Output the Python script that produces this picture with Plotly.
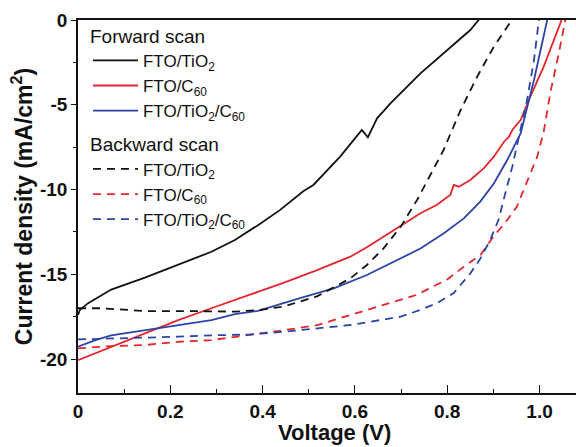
import plotly.graph_objects as go

# ---- data ----
fwd_tio2_v = [0, 0.004, 0.022, 0.072, 0.145, 0.217, 0.289, 0.34, 0.39, 0.438, 0.488, 0.51, 0.568, 0.615, 0.628, 0.648, 0.677, 0.742, 0.8, 0.85, 0.877]
fwd_tio2_j = [-17.4, -17.1, -16.7, -15.9, -15.2, -14.45, -13.67, -12.98, -12.1, -11.2, -10.1, -9.73, -8.06, -6.49, -6.92, -5.8, -4.92, -3.15, -1.77, -0.59, 0.3]

fwd_c60_v = [0, 0.072, 0.145, 0.217, 0.289, 0.362, 0.445, 0.518, 0.59, 0.626, 0.662, 0.699, 0.742, 0.778, 0.807, 0.814, 0.825, 0.85, 0.879, 0.901, 0.923, 0.934, 0.941, 0.959, 0.98, 1.009, 1.031, 1.052]
fwd_c60_j = [-20.06, -19.27, -18.5, -17.7, -17.0, -16.3, -15.5, -14.75, -13.96, -13.4, -12.78, -12.1, -11.4, -10.9, -10.3, -9.73, -9.83, -9.44, -8.75, -8.06, -7.18, -6.88, -6.49, -5.9, -4.52, -2.75, -1.18, 0.3]

fwd_tc_v = [0, 0.036, 0.072, 0.145, 0.217, 0.289, 0.34, 0.39, 0.481, 0.554, 0.626, 0.699, 0.742, 0.792, 0.836, 0.872, 0.901, 0.93, 0.959, 0.988, 1.002, 1.019]
fwd_tc_j = [-19.27, -18.9, -18.6, -18.3, -18.0, -17.7, -17.35, -17.15, -16.4, -15.83, -15.04, -14.06, -13.48, -12.59, -11.7, -10.7, -9.64, -8.26, -6.69, -3.54, -1.77, 0.3]

bwd_tio2_v = [0, 0.05, 0.108, 0.145, 0.253, 0.34, 0.395, 0.445, 0.518, 0.59, 0.626, 0.662, 0.699, 0.735, 0.792, 0.829, 0.865, 0.901, 0.95]
bwd_tio2_j = [-17.0, -17.0, -17.1, -17.17, -17.17, -17.2, -17.1, -16.9, -16.3, -15.24, -14.45, -13.47, -12.2, -10.6, -7.67, -5.31, -3.34, -1.57, 0.4]

bwd_c60_v = [0, 0.072, 0.145, 0.217, 0.289, 0.333, 0.39, 0.445, 0.518, 0.59, 0.662, 0.735, 0.756, 0.8, 0.836, 0.872, 0.9, 0.93, 0.951, 0.966, 0.98, 0.995, 1.009, 1.024, 1.04, 1.058]
bwd_c60_j = [-19.37, -19.23, -19.17, -18.98, -18.88, -18.72, -18.49, -18.3, -18.0, -17.4, -16.8, -16.2, -15.9, -15.3, -14.55, -13.86, -12.78, -11.8, -11.0, -10.0, -9.05, -8.06, -6.6, -4.2, -2.2, 0.3]

bwd_tc_v = [0, 0.108, 0.217, 0.289, 0.373, 0.445, 0.518, 0.59, 0.699, 0.742, 0.778, 0.814, 0.85, 0.872, 0.893, 0.911, 0.926, 0.941, 0.952, 0.973, 0.988, 1.0]
bwd_tc_j = [-18.84, -18.78, -18.68, -18.6, -18.55, -18.39, -18.19, -17.99, -17.5, -17.1, -16.7, -16.1, -14.95, -14.06, -12.98, -11.8, -10.2, -8.65, -7.28, -4.72, -2.36, 0.3]

x_tickvals = [0, 0.2, 0.4, 0.6, 0.8, 1.0]
x_ticktext = ["0", "0.2", "0.4", "0.6", "0.8", "1.0"]
y_tickvals = [0, -5, -10, -15, -20]
y_ticktext = ["0", "-5", "-10", "-15", "-20"]
x_title = "Voltage (V)"
y_title = "Current density (mA/cm<sup>2</sup>)"

BLACK = "#111111"
RED = "#e3262c"
BLUE = "#2c44a6"
FONT = "Arial, Liberation Sans, sans-serif"

series = [
    (fwd_tio2_v, fwd_tio2_j, "FTO/TiO<sub>2</sub>", BLACK, "solid", "legend"),
    (fwd_c60_v, fwd_c60_j, "FTO/C<sub>60</sub>", RED, "solid", "legend"),
    (fwd_tc_v, fwd_tc_j, "FTO/TiO<sub>2</sub>/C<sub>60</sub>", BLUE, "solid", "legend"),
    (bwd_tio2_v, bwd_tio2_j, "FTO/TiO<sub>2</sub>", BLACK, "8px,6px", "legend2"),
    (bwd_c60_v, bwd_c60_j, "FTO/C<sub>60</sub>", RED, "8px,6px", "legend2"),
    (bwd_tc_v, bwd_tc_j, "FTO/TiO<sub>2</sub>/C<sub>60</sub>", BLUE, "8px,6px", "legend2"),
]

fig = go.Figure()
for v, j, name, color, dash, leg in series:
    fig.add_trace(go.Scatter(x=v, y=j, mode="lines", name=name,
                             line=dict(color=color, width=1.8, dash=dash),
                             legend=leg))

legend_common = dict(
    font=dict(family=FONT, size=17, color="#111"),
    bgcolor="rgba(0,0,0,0)", borderwidth=0,
    xanchor="left", yanchor="top", tracegroupgap=0,
    itemsizing="trace", itemwidth=45,
)
fig.update_layout(
    width=576, height=447,
    margin=dict(l=78, r=0, t=20, b=54),
    paper_bgcolor="white", plot_bgcolor="white",
    font=dict(family=FONT, color="#111"),
    legend=dict(x=0.02, y=1.005, title=dict(text="Forward scan", font=dict(family=FONT, size=19)), **legend_common),
    legend2=dict(x=0.02, y=0.714, title=dict(text="Backward scan", font=dict(family=FONT, size=19)), **legend_common),
)
fig.add_annotation(text="<b>" + x_title + "</b>", xref="paper", yref="paper",
                   x=0.516, y=-0.105, xanchor="center", yanchor="middle",
                   showarrow=False, font=dict(family=FONT, size=22, color="#111"))
fig.update_xaxes(
    range=[0, 1.079], showline=True, linecolor="#111", linewidth=1.5, mirror=True,
    tickvals=x_tickvals, ticktext=x_ticktext, ticks="inside", ticklen=8, tickwidth=1.3, tickcolor="#111",
    minor=dict(dtick=0.1, ticks="inside", ticklen=4, tickwidth=1.3, tickcolor="#111"),
    tickfont=dict(family=FONT, size=19, color="#111", weight="bold"),
    showgrid=False, zeroline=False,
)
fig.update_yaxes(
    range=[-22, 0], showline=True, linecolor="#111", linewidth=1.5,
    tickvals=y_tickvals, ticktext=y_ticktext, ticks="outside", ticklen=5, tickwidth=1.3, tickcolor="#111",
    minor=dict(dtick=2.5, tick0=0, ticks="outside", ticklen=3, tickwidth=1.3, tickcolor="#111"),
    tickfont=dict(family=FONT, size=19, color="#111", weight="bold"),
    showgrid=False, zeroline=False,
    title=dict(text="<b>" + y_title + "</b>", font=dict(family=FONT, size=23, color="#111"), standoff=1),
)
fig.write_html("out.html")
